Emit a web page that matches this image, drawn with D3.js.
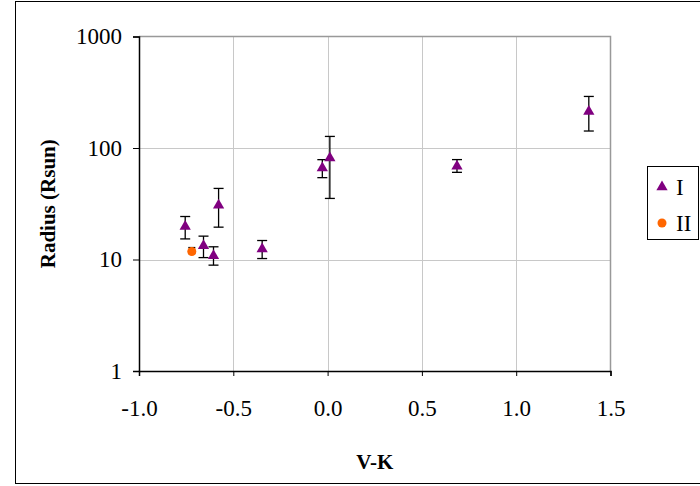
<!DOCTYPE html>
<html><head><meta charset="utf-8">
<script src="https://cdn.jsdelivr.net/npm/d3@7"></script>
<style>
html,body{margin:0;padding:0;background:#fff;}
svg{display:block;font-family:"Liberation Serif","Times New Roman",serif;}
</style></head>
<body>
<svg id="chart" width="700" height="486"></svg>
<script>
// Series I (purple triangles)
const xI = [-0.755, -0.658, -0.605, -0.578, -0.347, -0.028, 0.012, 0.686, 1.385];
const yI = [19.8, 13.3, 10.8, 30.6, 12.4, 66.3, 81.5, 68.5, 213];
const yIhi = [24.3, 16.2, 13.0, 43.4, 14.8, 78.6, 127, 78.7, 290];
const yIlo = [15.3, 10.4, 8.9, 19.5, 10.2, 54.2, 35.3, 60.5, 142];
// Series II (orange circles)
const xII = [-0.72];
const yII = [11.8];
const yIIhi = [12.8];
const yIIlo = [11.3];
const xTicks = [-1.0, -0.5, 0.0, 0.5, 1.0, 1.5];
const yTicks = [1, 10, 100, 1000];
const seriesNames = ["I", "II"];
const colors = ["#800080", "#FF6600"];

const svg = d3.select("#chart");
const L = 139, R = 610.5, T = 36.5, B = 371;

// outer frame
svg.append("rect").attr("x", 15.5).attr("y", 1.5).attr("width", 700).attr("height", 482)
  .attr("fill", "#fff").attr("stroke", "#000").attr("stroke-width", 1);

const x = d3.scaleLinear().domain([-1, 1.5]).range([L, R]);
const y = d3.scaleLog().domain([1, 1000]).range([B, T]);

// gridlines
svg.append("g").selectAll("line.v").data(xTicks.slice(1, -1)).join("line")
  .attr("x1", d => Math.round(x(d)) + 0.5).attr("x2", d => Math.round(x(d)) + 0.5)
  .attr("y1", T).attr("y2", B).attr("stroke", "#c8c8c8").attr("stroke-width", 1);
svg.append("g").selectAll("line.h").data(yTicks.slice(1, -1)).join("line")
  .attr("y1", d => Math.round(y(d)) + 0.5).attr("y2", d => Math.round(y(d)) + 0.5)
  .attr("x1", L).attr("x2", R).attr("stroke", "#c8c8c8").attr("stroke-width", 1);

// plot border (top/right gray)
svg.append("path").attr("d", `M${L},${T}H${R}V${B}`).attr("fill", "none")
  .attr("stroke", "#999").attr("stroke-width", 1.5);

// axes
const xAxis = svg.append("g").attr("transform", `translate(0,${B})`)
  .call(d3.axisBottom(x).tickValues(xTicks).tickFormat(d3.format(".1f")).tickSize(5).tickPadding(24));
const yAxis = svg.append("g").attr("transform", `translate(${L},0)`)
  .call(d3.axisLeft(y).tickValues(yTicks).tickFormat(d3.format("d")).tickSize(6).tickPadding(11));
[xAxis, yAxis].forEach(g => {
  g.select(".domain").attr("stroke", "#000").attr("stroke-width", 1.5);
  g.selectAll(".tick line").attr("stroke", "#000");
  g.selectAll(".tick text").attr("font-family", "Liberation Serif").attr("font-size", 23).attr("fill", "#000");
});
xAxis.selectAll(".tick text").text(d => d3.format(".1f")(d).replace("−", "-"));

// axis titles
svg.append("text").attr("x", (L + R) / 2).attr("y", 469).attr("text-anchor", "middle")
  .attr("font-weight", "bold").attr("font-size", 21).text("V-K");
svg.append("text").attr("transform", `translate(55,${(T + B) / 2}) rotate(-90)`)
  .attr("text-anchor", "middle").attr("font-weight", "bold").attr("font-size", 21).text("Radius (Rsun)");

// error bars
const eb = svg.append("g").attr("stroke", "#000").attr("stroke-width", 1.3);
function errBars(xs, lo, hi, cap) {
  xs.forEach((xv, i) => {
    const cx = x(xv);
    eb.append("line").attr("x1", cx).attr("x2", cx).attr("y1", y(lo[i])).attr("y2", y(hi[i]));
    eb.append("line").attr("x1", cx - cap).attr("x2", cx + cap).attr("y1", y(lo[i])).attr("y2", y(lo[i]));
    eb.append("line").attr("x1", cx - cap).attr("x2", cx + cap).attr("y1", y(hi[i])).attr("y2", y(hi[i]));
  });
}
errBars(xI, yIlo, yIhi, 5);
errBars(xII, yIIlo, yIIhi, 3.5);

const tri = d3.symbol().type(d3.symbolTriangle).size(55);
svg.append("g").selectAll("path").data(xI).join("path")
  .attr("d", tri).attr("transform", (d, i) => `translate(${x(d)},${y(yI[i])})`)
  .attr("fill", colors[0]);
svg.append("g").selectAll("circle").data(xII).join("circle")
  .attr("cx", d => x(d)).attr("cy", (d, i) => y(yII[i])).attr("r", 4.5).attr("fill", colors[1]);

// legend
const lg = svg.append("g");
lg.append("rect").attr("x", 647.5).attr("y", 166.5).attr("width", 51).attr("height", 73)
  .attr("fill", "#fff").attr("stroke", "#000").attr("stroke-width", 1);
seriesNames.forEach((n, i) => {
  const cy = 187 + i * 36;
  if (i === 0) lg.append("path").attr("d", tri).attr("transform", `translate(662,${cy})`).attr("fill", colors[0]);
  else lg.append("circle").attr("cx", 662).attr("cy", cy).attr("r", 4.5).attr("fill", colors[1]);
  lg.append("text").attr("x", 676).attr("y", cy + 8).attr("font-size", 23).text(n);
});
</script>
</body></html>
